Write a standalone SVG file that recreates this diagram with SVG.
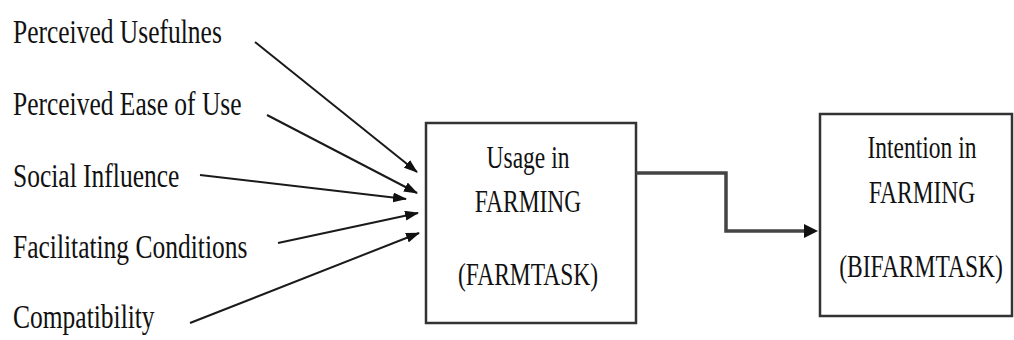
<svg xmlns="http://www.w3.org/2000/svg" width="1014" height="340" viewBox="0 0 1014 340">
<style>
.lbl{font-family:"Liberation Serif","Times New Roman",serif;font-size:25.5px;fill:#111}
.bt{font-family:"Liberation Serif","Times New Roman",serif;font-size:23.5px;fill:#111;text-anchor:middle}
.box{fill:#fff;stroke:#333;stroke-width:2.5}
.ar{stroke:#1a1a1a;stroke-width:2;fill:none}
.conn{stroke:#444;stroke-width:3.5;fill:none}
</style>
<defs>
<marker id="ah" markerWidth="14" markerHeight="10" refX="13" refY="5" orient="auto" markerUnits="userSpaceOnUse">
<path d="M0,0 L14,5 L0,10 Z" fill="#111"/>
</marker>
</defs>
<rect width="1014" height="340" fill="#fff"/>
<g id="pu"><text class="lbl" transform="translate(13,43) scale(1,1.3)">Perceived Usefulnes</text></g>
<g id="peou"><text class="lbl" transform="translate(13,115) scale(1,1.3)">Perceived Ease of Use</text></g>
<g id="si"><text class="lbl" transform="translate(13,187) scale(1,1.3)">Social Influence</text></g>
<g id="fc"><text class="lbl" transform="translate(13,258) scale(1,1.3)">Facilitating Conditions</text></g>
<g id="comp"><text class="lbl" transform="translate(13,328) scale(1,1.3)">Compatibility</text></g>
<g id="usage">
<rect class="box" x="426" y="123" width="210" height="200"/>
<text class="bt" transform="translate(528,168) scale(1,1.3)">Usage in</text>
<text class="bt" transform="translate(528,212) scale(1,1.3)">FARMING</text>
<text class="bt" transform="translate(528,285) scale(1,1.3)">(FARMTASK)</text>
</g>
<g id="intention">
<rect class="box" x="820" y="114" width="192" height="202"/>
<text class="bt" transform="translate(922,158) scale(1,1.3)">Intention in</text>
<text class="bt" transform="translate(922,203) scale(1,1.3)">FARMING</text>
<text class="bt" transform="translate(921,277) scale(1,1.3)">(BIFARMTASK)</text>
</g>
<g id="connectors">
<line class="ar" x1="255" y1="42" x2="417" y2="172" marker-end="url(#ah)"/>
<line class="ar" x1="267" y1="115" x2="417" y2="193" marker-end="url(#ah)"/>
<line class="ar" x1="200" y1="175" x2="406" y2="199" marker-end="url(#ah)"/>
<line class="ar" x1="278" y1="243" x2="418" y2="213" marker-end="url(#ah)"/>
<line class="ar" x1="190" y1="323" x2="419" y2="233" marker-end="url(#ah)"/>
<polyline class="conn" points="636,173 726,173 726,231 806,231"/>
<path d="M804,224 L818,231 L804,238 Z" fill="#111"/>
</g>
</svg>
